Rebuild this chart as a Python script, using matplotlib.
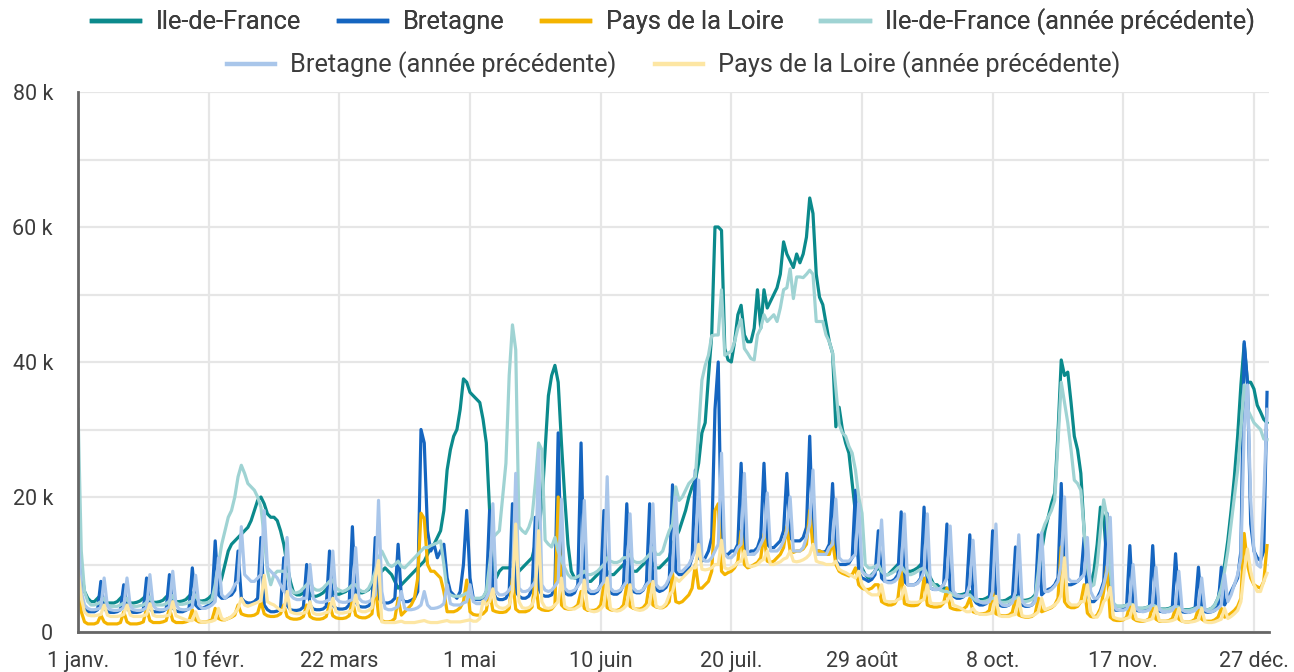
import matplotlib
matplotlib.use("Agg")
import matplotlib.pyplot as plt
from matplotlib.lines import Line2D
from matplotlib.ticker import MultipleLocator, FuncFormatter

# Daily values (thousands), day 0 = 1 janv.
ile_de_france = [
 21, 9, 6, 5, 4.5, 4.5, 5,
 5.5, 4.5, 4.3, 4.3, 4.3, 4.5, 5,
 5.5, 4.5, 4.3, 4.3, 4.4, 4.6, 5,
 5.5, 4.6, 4.4, 4.4, 4.5, 4.7, 5.2,
 5.6, 4.7, 4.5, 4.5, 4.6, 4.8, 5.3,
 5.8, 4.8, 4.6, 4.6, 4.7, 5, 5.5,
 6, 6.5, 8, 10, 12, 13, 13.5,
 14, 14.5, 15, 15.5, 16.5, 18, 19.5,
 20, 19, 17.5, 17, 17, 16.5, 15,
 13, 10, 7.5, 5.8, 5.5, 5.5, 5.8,
 6.5, 5.5, 5.3, 5.3, 5.5, 5.8, 6.3,
 6.8, 5.8, 5.6, 5.6, 5.8, 6, 6.5,
 7, 6, 5.8, 5.8, 6, 6.3, 7,
 8, 8.5, 9, 9.5, 9, 8.5, 7.5,
 6.5, 7, 7.5, 8, 8.5, 9, 9.5,
 10, 10.5, 11.5, 12.5, 13, 14, 15,
 18, 24, 27, 29, 30, 33, 37.5,
 37, 35.5, 35, 34.5, 34, 31.5, 28,
 18, 9, 8, 9, 9.5, 9.5, 9.5,
 10, 9.5, 9, 9.5, 10, 10.5, 11,
 13, 15, 19, 27, 35, 38, 39.5,
 37, 28, 20, 13, 9, 8, 8,
 8.5, 8, 7.5, 7.5, 8, 8.5, 9,
 9.5, 9, 8.5, 8.5, 9, 9.5, 10,
 10.3, 9.5, 9, 9, 9.5, 10, 10.5,
 11, 10, 9.5, 9.5, 10, 10.5, 11,
 13, 14, 15, 16.5, 18, 20, 21.5,
 22.5, 25, 29.5, 31, 37.8, 44, 60,
 60, 59.5, 42, 40.3, 40, 43, 47,
 48.4, 44, 43, 43, 45, 50.7, 45,
 50.7, 48, 49, 50, 51, 53, 57.8,
 56, 55, 54, 56, 54.7, 56, 58.5,
 64.3, 62, 53, 49.6, 48.5, 45.7, 43,
 41.3, 30.4, 33.3, 30, 28, 26.5, 22,
 17.6, 10.5, 9.5, 8.5, 8, 8.5, 9,
 9.5, 9, 8.5, 8.5, 9, 9.5, 10,
 10, 9.5, 9, 9, 9.2, 9.5, 10,
 10, 9, 8, 7, 7, 6.5, 6.5,
 6.5, 5.8, 5.5, 5.5, 5.5, 5.6, 5.8,
 6, 5, 4.8, 4.8, 4.8, 5, 5.3,
 5.5, 4.8, 4.6, 4.6, 4.7, 5, 5.3,
 5.5, 4.8, 4.7, 4.7, 4.8, 5, 5.5,
 7, 12, 15, 17, 19, 20.6, 29.5,
 40.3, 38, 38.5, 34, 29, 27, 23.5,
 15, 7.5, 7, 9, 13, 18.5, 17,
 10, 4.7, 4, 3.8, 3.8, 3.8, 4,
 4.2, 3.6, 3.5, 3.5, 3.5, 3.6, 3.8,
 4, 3.5, 3.4, 3.4, 3.4, 3.5, 3.7,
 3.9, 3.4, 3.3, 3.3, 3.3, 3.4, 3.6,
 3.8, 3.3, 3.3, 3.3, 3.5, 4, 5,
 7.3, 10, 13.6, 18, 23, 29, 36.6,
 42.7, 37, 37, 36, 33.6, 32.6, 31.5,
 31]

bretagne = [
 12, 5, 3.5, 3, 3, 3, 3.3,
 7.5, 3.5, 3, 2.9, 2.9, 3, 3.3,
 7, 3.5, 3, 2.9, 2.9, 3, 3.3,
 8, 3.5, 3, 3, 3, 3.1, 3.4,
 8.5, 3.6, 3.1, 3, 3, 3.2, 3.5,
 9.5, 4, 3.5, 3.5, 3.7, 4, 4.5,
 13.5, 5.5, 5, 5, 5.3, 5.5, 6.2,
 12, 5, 4.5, 4.3, 4.3, 4.5, 5,
 14, 4, 3.3, 3, 3, 3.1, 3.5,
 11, 4, 3.3, 3.2, 3.2, 3.3, 3.7,
 10, 4, 3.4, 3.3, 3.3, 3.4, 3.8,
 12, 4, 3.5, 3.4, 3.4, 3.5, 4,
 15.6, 4.5, 3.8, 3.7, 3.7, 3.9, 4.5,
 14, 5, 4.5, 4.3, 4.3, 4.5, 5,
 13, 5, 4.5, 4.5, 4.7, 5, 6,
 30, 28, 15, 12, 13, 11, 12,
 13, 8, 6, 5.5, 5, 6, 10,
 18, 8, 5, 4.8, 4.8, 5, 6,
 18, 6, 5, 4.8, 4.8, 5, 6,
 19, 6, 5.3, 5, 5, 5.3, 6.3,
 17, 6.5, 5.5, 5.3, 5.3, 5.5, 6.5,
 29.5, 7, 5.8, 5.5, 5.5, 5.8, 7,
 28, 7, 6, 5.7, 5.7, 6, 7,
 18, 6.5, 5.8, 5.6, 5.6, 6, 7,
 19, 6.5, 6, 5.8, 5.8, 6.2, 7.2,
 19, 7, 6.3, 6, 6.2, 6.6, 7.6,
 21.8, 9, 8.5, 8.5, 9, 9.5, 11,
 24, 11, 10.5, 11, 12, 14, 33,
 40, 12, 11.5, 11.5, 12, 12, 13,
 25, 12, 11.5, 12, 12, 12.5, 14,
 25, 13, 12.5, 12.5, 13, 13.5, 15,
 23.5, 14, 13.5, 13.5, 13.5, 14, 15.5,
 29, 13, 12, 12, 11.8, 12, 13,
 22, 10.5, 10, 10, 10, 10.2, 11,
 21, 8.7, 8, 7.8, 7.5, 7.8, 8.5,
 15, 8, 7.5, 7.5, 7.5, 7.8, 8.5,
 17.8, 7.5, 7, 7, 7, 7.3, 8,
 18.5, 7, 6.5, 6.3, 6.3, 6.5, 7,
 16, 6, 5.3, 5, 5, 5.2, 5.8,
 14.4, 5, 4.3, 4, 4, 4.2, 4.8,
 15, 4.5, 4, 3.8, 3.8, 4, 4.6,
 12.6, 4.5, 4, 3.8, 3.8, 4, 4.6,
 14.4, 5.5, 6, 6.3, 6.5, 7, 8,
 22, 7.5, 7, 7, 7.2, 7.5, 8,
 14, 5.5, 4.5, 4.5, 5, 6, 7.5,
 17.6, 4, 3.3, 3.2, 3.2, 3.3, 3.8,
 12.8, 3.6, 3.2, 3.1, 3.1, 3.2, 3.7,
 12.8, 3.5, 3.1, 3, 3, 3.2, 3.7,
 11.6, 3.4, 3, 2.9, 2.9, 3.1, 3.6,
 9.6, 3.3, 3, 2.9, 3, 3.2, 3.8,
 9.6, 4, 5, 6, 7, 8, 12,
 43, 37, 16, 12, 11, 10.6, 12,
 35.5]

pays_de_la_loire = [
 8, 3, 1.5, 1.2, 1.2, 1.2, 1.4,
 2.5, 1.5, 1.2, 1.2, 1.2, 1.2, 1.4,
 3, 1.5, 1.2, 1.2, 1.2, 1.3, 1.5,
 3.5, 1.7, 1.4, 1.4, 1.4, 1.5, 1.7,
 3.5, 1.7, 1.4, 1.4, 1.4, 1.5, 1.7,
 3.3, 1.8, 1.5, 1.5, 1.5, 1.6, 1.8,
 3.5, 2, 1.8, 1.8, 2, 2.2, 2.5,
 4, 2.7, 2.5, 2.4, 2.4, 2.5, 2.8,
 4.5, 2.7, 2.4, 2.3, 2.3, 2.4, 2.7,
 4, 2.3, 2, 1.9, 1.9, 2, 2.3,
 4, 2.3, 2, 1.9, 1.9, 2, 2.3,
 4.2, 2.4, 2.1, 2, 2, 2.1, 2.4,
 4.7, 2.5, 2.2, 2.1, 2.1, 2.3, 2.7,
 7, 2.5, 1.7, 1.5, 1.5, 1.6, 2,
 5, 2.5, 3, 3.5, 4, 5, 8,
 17.6, 16.8, 10, 9, 9, 8.5, 8,
 6, 3, 3, 3, 3.2, 3.6, 4.5,
 7.7, 3, 2.6, 2.5, 2.5, 2.7, 3.2,
 6, 3.2, 3, 2.9, 2.9, 3, 3.5,
 8, 3.4, 3, 3, 3, 3.2, 3.7,
 8, 3.6, 3.3, 3.2, 3.2, 3.4, 4,
 20, 4, 3.5, 3.4, 3.4, 3.6, 4,
 6, 3.5, 3.2, 3.2, 3.2, 3.4, 4,
 7, 3.6, 3.3, 3.2, 3.2, 3.4, 4,
 7, 3.8, 3.5, 3.4, 3.4, 3.6, 4.2,
 7.5, 4, 3.7, 3.6, 3.6, 3.9, 4.5,
 8.7, 4.5, 4.3, 4.5, 5, 5.5, 6.5,
 10, 6.5, 6.5, 7, 7.5, 9, 18,
 19, 9, 8.5, 8.8, 9, 9.5, 10.5,
 15, 10, 9.5, 9.7, 10, 10.3, 11,
 14.5, 10.5, 10.3, 10.5, 11, 11.5, 12.5,
 15.6, 12, 11.8, 12, 12, 12.3, 13,
 18, 12.5, 12, 12, 11.8, 11.5, 11.5,
 13.5, 10, 9, 8.7, 8.5, 8.3, 8.5,
 9.5, 7, 6.5, 6.3, 6.3, 6.5, 7,
 7, 4.5, 4.2, 4, 4, 4.2, 5,
 9, 4.2, 4, 3.9, 3.9, 4, 4.6,
 8, 4, 3.8, 3.7, 3.7, 3.8, 4.3,
 6.5, 3.6, 3.4, 3.3, 3.3, 3.4, 3.8,
 5, 3, 2.8, 2.7, 2.7, 2.8, 3.2,
 6, 2.7, 2.5, 2.4, 2.4, 2.5, 2.9,
 5, 2.5, 2.3, 2.2, 2.2, 2.3, 2.7,
 5, 3, 3.2, 3.4, 3.6, 4, 5,
 12.6, 4.5, 3.8, 3.6, 3.6, 3.8, 4.5,
 7, 2.8, 2.3, 2.2, 2.5, 3.5, 6,
 9.7, 2.2, 1.8, 1.7, 1.7, 1.8, 2.2,
 4, 2, 1.7, 1.6, 1.6, 1.7, 2,
 4, 1.9, 1.6, 1.6, 1.6, 1.7, 2,
 3.5, 1.9, 1.6, 1.5, 1.5, 1.6, 1.9,
 3.5, 1.9, 1.6, 1.6, 1.6, 1.8, 2.2,
 3.5, 2.2, 2.4, 2.8, 3.2, 3.8, 5,
 14.6, 10, 8, 7, 6.7, 6.5, 7.5,
 12.8]

ile_de_france_prev = [
 33, 12, 6, 4.5, 4, 4, 4.2,
 4.5, 5, 4, 3.8, 3.8, 3.8, 4,
 4.3, 5, 4, 3.8, 3.8, 3.9, 4,
 4.4, 5.2, 4.2, 4, 4, 4, 4.2,
 4.6, 5.4, 4.3, 4.1, 4.1, 4.2, 4.4,
 4.6, 5.5, 4.5, 4.3, 4.3, 4.4, 4.8,
 7, 10, 13, 15, 17, 18, 20,
 23, 24.7, 23.5, 22, 21.5, 21, 20,
 18.5, 14, 9, 7, 8.5, 9, 9,
 9, 8.5, 6.5, 5.8, 5.8, 6, 6.5,
 7, 7.5, 6.5, 6.2, 6.2, 6.5, 7,
 7.5, 7.7, 6.5, 6.2, 6, 6.2, 6.5,
 7, 7, 6.3, 6, 6, 6.5, 7.5,
 9, 11, 12, 11, 10, 9.7, 10,
 10.5, 9.7, 9.5, 10, 10.5, 11, 11.5,
 12, 12.5, 12.5, 12.8, 13, 13.2, 13.5,
 10, 6, 5.5, 5.3, 5.3, 5.3, 5.5,
 5.8, 5.2, 5, 5, 5, 5.2, 6,
 10, 14, 14.5, 15, 20, 25, 38,
 45.5, 41.8, 15.6, 15, 14.6, 15.5, 17,
 22, 28, 27, 13.6, 13, 12.6, 14,
 12, 10.6, 9.5, 8.5, 8, 8, 8.2,
 8.5, 9, 8.5, 8.5, 8.7, 9, 9.5,
 10, 11, 10.5, 10.3, 10.3, 10.5, 11,
 11, 11.5, 10.5, 10.3, 10.3, 10.5, 11,
 11.5, 12.5, 11.5, 11.5, 12, 13.6, 15,
 16, 21.5, 19.5, 20, 21, 22, 22.5,
 23, 30, 37.3, 39.5, 41, 43.9, 44,
 44, 50.7, 41, 41.3, 41.6, 43, 45,
 46.3, 42, 41.3, 40.5, 40.3, 44, 45,
 47, 46, 46.5, 47, 46, 48, 50.7,
 51, 53.8, 49.4, 52.6, 52.6, 52.5, 53,
 53.6, 53, 46, 46, 46, 44, 43,
 41.3, 36, 30.8, 29.5, 29, 27.5, 26.5,
 24, 20, 17.6, 10, 9.5, 9.5, 9.7,
 10, 9, 8.5, 8.5, 8.7, 9, 9.5,
 9.8, 9, 8.5, 8.5, 8.7, 9, 9.3,
 9.5, 8.5, 7.5, 7, 6.5, 6.2, 6,
 6, 5.8, 5.5, 5.3, 5.3, 5.3, 5.5,
 5.5, 5, 4.6, 4.5, 4.5, 4.6, 4.8,
 5, 5, 4.5, 4.4, 4.4, 4.5, 4.8,
 5, 5.2, 4.6, 4.5, 4.6, 4.8, 5.2,
 9, 14.6, 16, 17, 18, 19.5, 28,
 37, 34, 31, 27, 22.5, 22, 21,
 15, 9.7, 6.7, 7, 10, 15, 19.6,
 17, 9, 4.3, 3.8, 3.8, 3.8, 4,
 4.2, 4, 3.6, 3.5, 3.5, 3.6, 3.8,
 4, 3.8, 3.4, 3.3, 3.3, 3.4, 3.6,
 3.8, 3.7, 3.3, 3.2, 3.2, 3.3, 3.5,
 3.7, 3.6, 3.3, 3.3, 3.5, 4, 5,
 6.5, 9, 12, 16, 20, 24, 30,
 36.6, 33, 32, 31, 30.5, 30, 28.6,
 28.5]

bretagne_prev = [
 15, 6, 4, 3.5, 3.3, 3.3, 3.4,
 3.6, 8, 3.8, 3.3, 3.2, 3.2, 3.3,
 3.6, 8, 3.8, 3.3, 3.2, 3.2, 3.3,
 3.6, 8.5, 3.9, 3.4, 3.3, 3.3, 3.4,
 3.7, 9, 4, 3.4, 3.3, 3.3, 3.4,
 3.7, 8.4, 4, 3.5, 3.5, 3.7, 4,
 4.5, 11, 5.5, 5, 5.5, 6, 7,
 7.5, 15.6, 8.5, 8, 7.5, 7.5, 8,
 8.5, 18, 9.5, 9, 8.5, 8, 7,
 6, 14, 5.5, 5, 4.8, 4.8, 5,
 5, 10, 5, 4.5, 4.4, 4.4, 4.6,
 4.8, 12, 5, 4.5, 4.4, 4.4, 4.6,
 4.8, 12.5, 5, 4.5, 4.4, 4.5, 4.8,
 5.5, 19.5, 6, 3.5, 3.3, 3.3, 3.5,
 3.8, 6, 3.5, 3.3, 3.3, 3.4, 3.6,
 4, 6, 4, 3.5, 3.5, 3.6, 3.8,
 4.2, 7, 4.2, 4, 4, 4, 4.3,
 4.5, 7, 4.5, 4.2, 4.2, 4.4, 5,
 6, 19, 6, 5.5, 5.5, 5.7, 6.2,
 7, 23.5, 6.5, 6, 6, 6.2, 6.8,
 7.5, 27, 7, 6.2, 6, 6.2, 6.8,
 7.5, 19.7, 6.5, 6, 6, 6.2, 6.8,
 7.5, 19.5, 6.5, 6, 6, 6.2, 6.8,
 7.5, 23, 6.5, 6, 6, 6.2, 6.8,
 7.5, 17.5, 6.5, 6, 6, 6.3, 7,
 7.5, 19, 7, 6.5, 6.5, 7, 8,
 9, 20, 9, 9, 9.5, 10, 11,
 12, 22.5, 11, 10.5, 10.5, 11, 12,
 13, 26.5, 11.5, 11, 11, 11.5, 12.5,
 13, 23.5, 11.5, 11.5, 11.5, 12, 13,
 14, 20.6, 12, 12, 12, 12.5, 13.5,
 15, 20, 12, 12, 12, 12.5, 14,
 16, 24, 11.5, 11.5, 11.5, 11.5, 12.5,
 13, 19.7, 11, 10.5, 10.5, 10.5, 11,
 11.5, 19, 9, 8.5, 8.3, 8.3, 9,
 10, 16.6, 7.5, 7.3, 7.3, 7.5, 8,
 9.5, 17.5, 7, 7, 7, 7.2, 7.8,
 9, 17.5, 6.5, 6.3, 6.3, 6.5, 7,
 8, 15.7, 6, 5.5, 5.3, 5.3, 5.5,
 7, 13.6, 5, 4.5, 4.3, 4.3, 4.5,
 6, 16, 4.5, 4, 3.9, 4, 4.3,
 6, 14.4, 4.5, 4, 3.9, 4, 4.5,
 7, 14.7, 6, 6, 6.3, 6.8, 7.5,
 10, 20, 8, 7.5, 7.5, 7.5, 8,
 8.5, 14, 6, 5, 5, 5.5, 7,
 9, 17, 4, 3.3, 3.2, 3.2, 3.4,
 4.5, 10, 3.5, 3.1, 3, 3.1, 3.3,
 4.3, 9.6, 3.4, 3, 3, 3, 3.2,
 4, 9, 3.3, 3, 2.9, 3, 3.2,
 3.8, 8, 3.3, 3, 3, 3.2, 3.5,
 4, 8.5, 4.5, 5.5, 7, 8.5, 11,
 30, 36.6, 19.5, 12, 10, 9.6, 20,
 33]

pays_de_la_loire_prev = [
 9, 5, 3, 2.5, 2.4, 2.4, 2.5,
 2.6, 4, 2.5, 2.3, 2.3, 2.3, 2.4,
 2.6, 4, 2.5, 2.3, 2.3, 2.3, 2.4,
 2.6, 4.2, 2.5, 2.3, 2.3, 2.3, 2.4,
 2.5, 4.5, 2.4, 2.2, 2, 1.8, 1.7,
 1.7, 3, 1.7, 1.5, 1.5, 1.5, 1.6,
 1.8, 3.5, 2, 1.8, 2, 2.3, 2.8,
 3.5, 5, 4, 3.8, 4, 4.2, 4.4,
 4.6, 8.4, 4.5, 4.2, 4, 3.6, 3.2,
 3.2, 6, 3, 2.8, 2.7, 2.7, 2.8,
 3, 4.5, 2.8, 2.6, 2.6, 2.7, 2.9,
 3, 5, 3, 2.8, 2.8, 2.9, 3,
 3.3, 5.5, 3.2, 3, 3, 3.2, 3.6,
 8, 10.6, 1.5, 1.4, 1.4, 1.4, 1.4,
 1.5, 1.6, 1.4, 1.4, 1.4, 1.4, 1.5,
 1.6, 1.7, 1.5, 1.4, 1.4, 1.4, 1.5,
 1.6, 1.7, 1.5, 1.5, 1.5, 1.5, 1.6,
 1.7, 1.8, 1.6, 1.6, 2, 4.6, 4,
 4.5, 6.4, 4, 3.6, 3.5, 3.6, 4,
 6, 16, 4.5, 3.6, 3.5, 3.6, 4,
 5.5, 15, 4.5, 3.6, 3.5, 3.6, 4,
 4.5, 8, 3.8, 3.5, 3.4, 3.4, 3.7,
 4, 7.7, 3.4, 3.1, 3, 3.1, 3.4,
 4, 8, 3.5, 3.2, 3.1, 3.2, 3.5,
 4, 7, 3.6, 3.3, 3.2, 3.3, 3.6,
 4.2, 7.5, 3.8, 3.6, 3.7, 4.2, 5.5,
 6, 8, 7.5, 8, 8.5, 9, 9.5,
 9.5, 13, 9.3, 9.2, 9.3, 9.5, 10,
 10, 13.6, 9.5, 9.3, 9.5, 9.8, 10.3,
 10.5, 12, 9.8, 9.7, 9.8, 10, 10.5,
 10.8, 12, 10, 10, 10.2, 10.4, 10.8,
 11, 12, 10.5, 10.4, 10.5, 10.7, 11,
 11.5, 13, 10.5, 10.3, 10.2, 10, 10,
 10, 10.5, 9.3, 9, 8.8, 8.5, 8.3,
 8, 9, 7, 6.3, 5.8, 5.5, 5.5,
 5.5, 7, 4.6, 4.5, 4.5, 4.5, 4.8,
 5, 6.7, 4.5, 4.4, 4.4, 4.4, 4.6,
 4.8, 7, 4.3, 4.2, 4.2, 4.2, 4.4,
 4.5, 5.5, 4, 3.8, 3.6, 3.3, 3,
 3, 3.5, 2.8, 2.7, 2.6, 2.6, 2.7,
 2.8, 5.3, 2.4, 2.3, 2.3, 2.3, 2.5,
 2.6, 5, 2.4, 2.3, 2.3, 2.4, 2.6,
 3, 5, 3.3, 3.5, 3.7, 4, 4.5,
 5.5, 11, 4.5, 4, 4, 4, 4.5,
 4.5, 7, 3, 2.2, 2.2, 3, 4.5,
 5, 6.6, 2.2, 2, 1.9, 1.9, 2,
 2.2, 4, 1.9, 1.8, 1.7, 1.7, 1.8,
 2, 3.7, 1.7, 1.6, 1.6, 1.6, 1.7,
 1.9, 3.5, 1.6, 1.5, 1.5, 1.5, 1.6,
 1.8, 3.5, 1.5, 1.4, 1.4, 1.5, 1.7,
 1.9, 3.5, 2, 2.3, 2.7, 3.2, 4.5,
 9, 12.3, 9, 7, 6, 6, 7.5,
 8.7]

series_names = ["Ile-de-France", "Bretagne", "Pays de la Loire",
                "Ile-de-France (année précédente)", "Bretagne (année précédente)",
                "Pays de la Loire (année précédente)"]
series_colors = ["#0b8a8c", "#1565c0", "#f4b400", "#9fd3d3", "#a9c6ea", "#fde6a3"]

tick_days = [0, 40, 80, 120, 160, 200, 240, 280, 320, 360]
tick_labels = ["1 janv.", "10 févr.", "22 mars", "1 mai", "10 juin", "20 juil.",
               "29 août", "8 oct.", "17 nov.", "27 déc."]

plt.rcParams['font.family'] = ['Roboto', 'DejaVu Sans']

fig = plt.figure(figsize=(12.94, 6.72), dpi=100)
ax = fig.add_axes([78/1294, 1 - 632/672, (1269-78)/1294, (632-92)/672])

all_series = [ile_de_france, bretagne, pays_de_la_loire,
              ile_de_france_prev, bretagne_prev, pays_de_la_loire_prev]
handles = []
for vals, name, col in zip(all_series, series_names, series_colors):
    days = list(range(len(vals)))
    ax.plot(days, vals, color=col, lw=2.3, solid_joinstyle='round', label=name)
    handles.append(Line2D([0], [0], color=col, lw=3.2))

ax.set_xlim(0, 364.6)
ax.set_ylim(0, 80)
ax.yaxis.set_major_locator(MultipleLocator(20))
ax.yaxis.set_minor_locator(MultipleLocator(10))
ax.yaxis.set_major_formatter(FuncFormatter(lambda v, p: "0" if v == 0 else f"{int(v)} k"))
ax.set_xticks(tick_days)
ax.set_xticklabels(tick_labels)
ax.grid(True, which='both', axis='y', color='#e6e6e6', lw=1.6)
ax.grid(True, which='major', axis='x', color='#e6e6e6', lw=1.6)
ax.set_axisbelow(True)
for s in ['top', 'right']:
    ax.spines[s].set_visible(False)
for s in ['left', 'bottom']:
    ax.spines[s].set_color('#666666')
    ax.spines[s].set_linewidth(2)
ax.tick_params(axis='both', which='both', length=0, labelsize=15.5, colors='#3c3c3c')
ax.tick_params(axis='x', pad=14)
ax.tick_params(axis='y', pad=18)
for lab in ax.get_yticklabels():
    lab.set_horizontalalignment('right')

legend_x = (78 + 1269) / 2 / 1294
leg_kw = dict(loc='center', frameon=False, fontsize=18.3, handlelength=1.9,
              columnspacing=1.5, handletextpad=0.6, labelcolor='#3c3c3c')
leg1 = fig.legend(handles[:4], series_names[:4], bbox_to_anchor=(legend_x, 1 - 22/672), ncol=4, **leg_kw)
leg2 = fig.legend(handles[4:], series_names[4:], bbox_to_anchor=(legend_x, 1 - 65/672), ncol=2, **leg_kw)
fig.add_artist(leg1)

fig.savefig("out.png", dpi=100)
